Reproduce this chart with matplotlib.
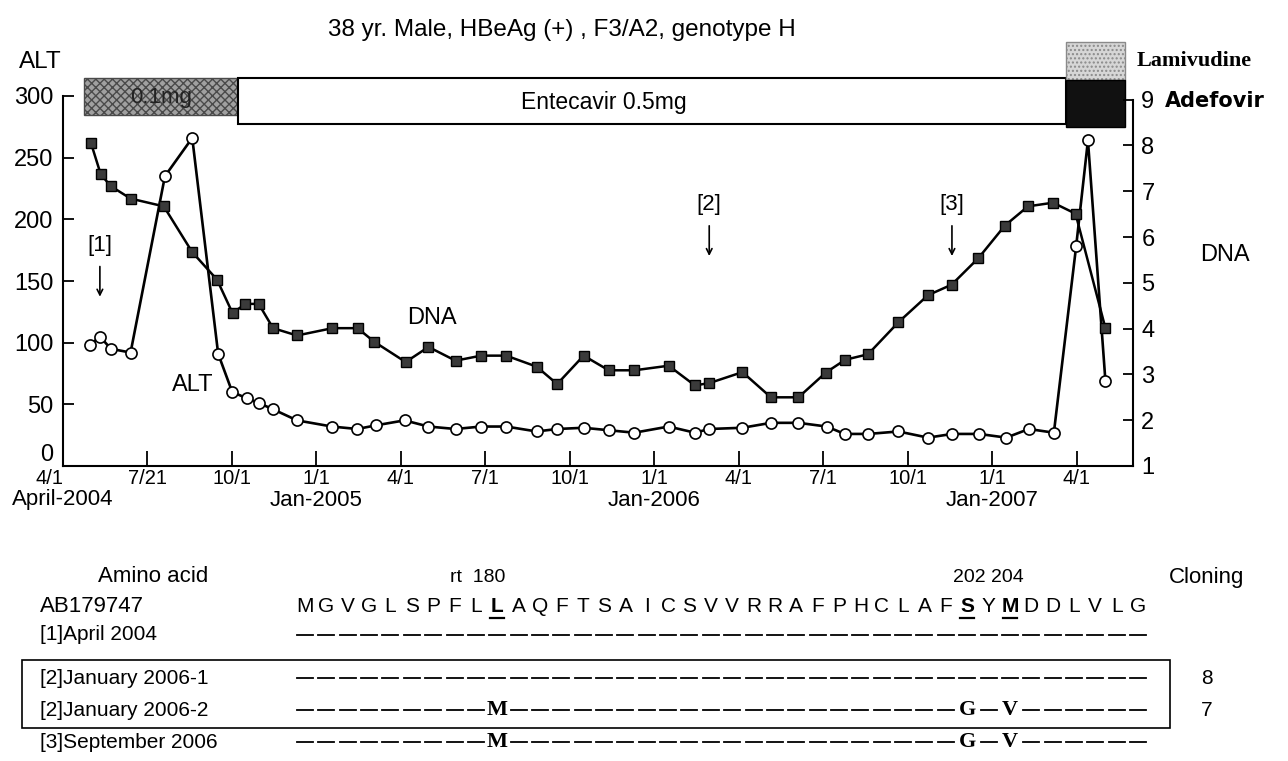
import matplotlib.pyplot as plt
import matplotlib.transforms as mtransforms
from matplotlib.patches import Rectangle
from matplotlib.lines import Line2D

plt.rcParams['font.family'] = ['Liberation Sans', 'DejaVu Sans']

W, H = 1288, 761


def fx(x):
    return x / W


def fy(y):
    return 1 - y / H


# months since 1 April 2004
alt_month = [0.96, 1.31, 1.70, 2.40, 3.62, 4.59, 5.51, 6.01, 6.52, 6.96, 7.46, 8.31,
             9.55, 10.45, 11.12, 12.13, 12.98, 13.94, 14.85, 15.74, 16.82, 17.55,
             18.49, 19.38, 20.29, 21.51, 22.44, 22.95, 24.13, 25.14, 26.12, 27.12,
             27.76, 28.60, 29.67, 30.72, 31.58, 32.53, 33.50, 34.30, 35.19, 35.98,
             36.40, 37.02]
alt_value = [98, 105, 95, 92, 235, 266, 91, 60, 55, 51, 46, 37,
             32, 30, 33, 37, 32, 30, 32, 32, 28, 30,
             31, 29, 27, 32, 27, 30, 31, 35, 35, 32,
             26, 26, 28, 23, 26, 26, 23, 30, 27, 178,
             264, 69]

dna_month = [0.99, 1.34, 1.70, 2.40, 3.58, 4.59, 5.47, 6.02, 6.48, 6.95, 7.46, 8.31,
             9.57, 10.46, 11.06, 12.17, 12.98, 13.94, 14.85, 15.74, 16.82, 17.55,
             18.49, 19.38, 20.29, 21.51, 22.44, 22.95, 24.13, 25.14, 26.12, 27.09,
             27.78, 28.59, 29.67, 30.72, 31.56, 32.51, 33.45, 34.27, 35.16, 35.96,
             37.02]
dna_value = [8.06, 7.37, 7.11, 6.84, 6.67, 5.67, 5.07, 4.34, 4.54, 4.54, 4.01, 3.85,
             4.01, 4.01, 3.71, 3.27, 3.60, 3.30, 3.41, 3.41, 3.17, 2.79,
             3.41, 3.09, 3.09, 3.19, 2.76, 2.81, 3.05, 2.50, 2.50, 3.04,
             3.32, 3.44, 4.14, 4.73, 4.96, 5.54, 6.25, 6.67, 6.75, 6.51,
             4.01]

tick_month = [0, 3, 6, 9, 12, 15, 18, 21, 24, 27, 30, 33, 36]
tick_label = ['4/1', '7/21', '10/1', '1/1', '4/1', '7/1', '10/1', '1/1', '4/1',
              '7/1', '10/1', '1/1', '4/1']
year_month = [0, 9, 21, 33]
year_label = ['April-2004', 'Jan-2005', 'Jan-2006', 'Jan-2007']

lam_low = (0.74, 6.21)
entecavir = (6.21, 35.62)
lam_adv = (35.62, 37.7)

sample_month = [1.31, 22.95, 31.57]
sample_label = ['[1]', '[2]', '[3]']

ref_seq = 'MGVGLSPFLLAQFTSAICSVVRRAFPHCLAFSYMDDLVLG'
key_pos = [10, 32, 34]
samples = ['[1]April 2004', '[2]January 2006-1', '[2]January 2006-2', '[3]September 2006']
mutations = [{}, {}, {10: 'M', 32: 'G', 34: 'V'}, {10: 'M', 32: 'G', 34: 'V'}]
cloning = ['', '8', '7', '']

fig = plt.figure(figsize=(12.88, 7.61), dpi=100)
ax = fig.add_axes([fx(63), fy(466), fx(1133) - fx(63), fy(96) - fy(466)])
ax2 = ax.twinx()

ax.set_xlim(0, 38)
ax.set_ylim(0, 300)
ax2.set_ylim(1, 9.08)
ax.set_yticks(range(0, 301, 50))
ax2.set_yticks(range(1, 10))
ax.set_xticks(tick_month)
ax.set_xticklabels(tick_label)

for s in ['top', 'right']:
    ax.spines[s].set_visible(False)
for s in ['top', 'left', 'bottom']:
    ax2.spines[s].set_visible(False)
for a in (ax, ax2):
    for s in a.spines.values():
        s.set_linewidth(1.5)
ax2.spines['right'].set_bounds(1, 9)

ax.tick_params(axis='y', direction='in', length=8, width=1.3, labelsize=17, pad=7)
ax.tick_params(axis='x', direction='in', length=11, width=1.3, labelsize=14.5, pad=2)
ax2.tick_params(axis='y', direction='in', length=7, width=1.3, labelsize=17, pad=6)
# the origin labels sit off to the lower left, as in the original
ax.get_xticklabels()[0].set_ha('right')
ax.get_yticklabels()[0].set_va('bottom')

ax.plot(alt_month, alt_value, '-o', color='black', mfc='white', mec='black',
        ms=8, lw=1.9, mew=1.2, zorder=3, clip_on=False)
ax2.plot(dna_month, dna_value, '-s', color='black', mfc='#3a3a3a', mec='black',
         ms=7, lw=1.8, zorder=3, clip_on=False)

trans = mtransforms.blended_transform_factory(ax.transData, fig.transFigure)

# year labels under the month ticks
for m, lab in zip(year_month, year_label):
    ax.text(m, fy(500), lab, transform=trans, ha='center', va='center', fontsize=16)

# treatment bars above the plot
ax.add_patch(Rectangle((lam_low[0], fy(115)), lam_low[1] - lam_low[0], fy(78) - fy(115),
                       transform=trans, clip_on=False, facecolor='#a0a0a0',
                       edgecolor='#4a4a4a', hatch='xxxx', lw=1))
ax.text((lam_low[0] + lam_low[1]) / 2, fy(97), '0.1mg', transform=trans,
        ha='center', va='center', fontsize=16, color='#222222')
ax.add_patch(Rectangle((entecavir[0], fy(124)), entecavir[1] - entecavir[0], fy(78) - fy(124),
                       transform=trans, clip_on=False, facecolor='white',
                       edgecolor='black', lw=1.5))
ax.text(19.2, fy(102), 'Entecavir 0.5mg', transform=trans,
        ha='center', va='center', fontsize=16.5)
ax.add_patch(Rectangle((lam_adv[0], fy(80)), lam_adv[1] - lam_adv[0], fy(42) - fy(80),
                       transform=trans, clip_on=False, facecolor='#d6d6d6',
                       edgecolor='#8a8a8a', hatch='....', lw=1))
ax.add_patch(Rectangle((lam_adv[0], fy(127)), lam_adv[1] - lam_adv[0], fy(80) - fy(127),
                       transform=trans, clip_on=False, facecolor='#111111',
                       edgecolor='black', lw=1))

fig.text(fx(1137), fy(61), 'Lamivudine', family='Liberation Serif', weight='bold',
         fontsize=16, ha='left', va='center')
fig.text(fx(1165), fy(101), 'Adefovir', family='DejaVu Sans', weight='bold',
         fontsize=15, ha='left', va='center')

fig.text(fx(562), fy(30), '38 yr. Male, HBeAg (+) , F3/A2, genotype H',
         ha='center', va='center', fontsize=17.5)
fig.text(fx(40), fy(62), 'ALT', ha='center', va='center', fontsize=17.5)
fig.text(fx(1225), fy(255), 'DNA', ha='center', va='center', fontsize=17)
ax.text(13.1, 120, 'DNA', ha='center', va='center', fontsize=17)
ax.text(4.6, 66, 'ALT', ha='center', va='center', fontsize=17)

# sampling points
for m, lab in zip(sample_month, sample_label):
    top = 179 if lab == '[1]' else 212
    ax.text(m, top, lab, ha='center', va='center', fontsize=16)
    ax.annotate('', xy=(m, top - 44), xytext=(m, top - 15),
                arrowprops=dict(arrowstyle='->', lw=1.2, color='black'))

# amino acid table
x0, dx = 305, 21.36
fig.text(fx(153), fy(577), 'Amino acid', ha='center', va='center', fontsize=16)
fig.text(fx(478), fy(577), 'rt  180', ha='center', va='center', fontsize=14)
fig.text(fx(988), fy(577), '202 204', ha='center', va='center', fontsize=14)
fig.text(fx(1207), fy(577), 'Cloning', ha='center', va='center', fontsize=16)
fig.text(fx(40), fy(606), 'AB179747', ha='left', va='center', fontsize=16)
for i, ch in enumerate(ref_seq):
    x = x0 + i * dx
    key = (i + 1) in key_pos
    fig.text(fx(x), fy(606), ch, ha='center', va='center', fontsize=15,
             weight='bold' if key else 'normal')
    if key:
        fig.add_artist(Line2D([fx(x - 7), fx(x + 7)], [fy(618), fy(618)],
                              color='black', lw=1.6))

row_y = [635, 678, 710, 742]
for y, name, mut, n in zip(row_y, samples, mutations, cloning):
    fig.text(fx(40), fy(y), name, ha='left', va='center', fontsize=15)
    for i in range(len(ref_seq)):
        x = x0 + i * dx
        if (i + 1) in mut:
            fig.text(fx(x), fy(y), mut[i + 1], ha='center', va='center', fontsize=16,
                     family='Liberation Serif', weight='bold')
        else:
            fig.add_artist(Line2D([fx(x - 8), fx(x + 8)], [fy(y), fy(y)],
                                  color='black', lw=1.3))
    if n:
        fig.text(fx(1207), fy(y), n, ha='center', va='center', fontsize=15)

fig.add_artist(Rectangle((fx(22), fy(728)), fx(1170) - fx(22), fy(660) - fy(728),
                         transform=fig.transFigure, facecolor='none',
                         edgecolor='black', lw=1.2))

fig.savefig('out.png', dpi=100)
